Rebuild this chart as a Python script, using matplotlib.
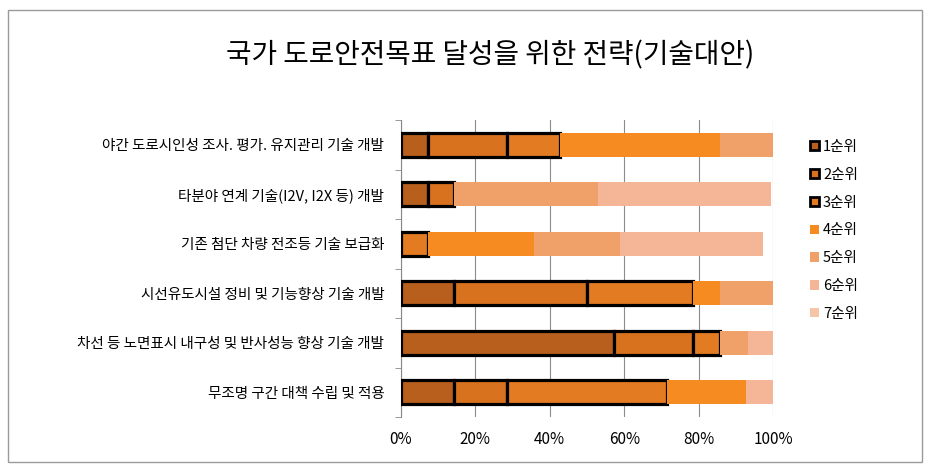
import matplotlib
matplotlib.use("Agg")
import matplotlib.pyplot as plt
import matplotlib.patches as mpatches
import numpy as np

plt.rcParams["font.family"] = ["Noto Sans CJK KR", "DejaVu Sans"]

title = "국가 도로안전목표 달성을 위한 전략(기술대안)"
categories = [
    "야간 도로시인성 조사. 평가. 유지관리 기술 개발",
    "타분야 연계 기술(I2V, I2X 등) 개발",
    "기존 첨단 차량 전조등 기술 보급화",
    "시선유도시설 정비 및 기능향상 기술 개발",
    "차선 등 노면표시 내구성 및 반사성능 향상 기술 개발",
    "무조명 구간 대책 수립 및 적용",
]
rank_labels = ["1순위", "2순위", "3순위", "4순위", "5순위", "6순위", "7순위"]
# percent of responses per rank, one list per rank (same order as categories)
rank1 = [7.14, 7.14, 0, 14.29, 57.14, 14.29]
rank2 = [21.43, 7.14, 0, 35.71, 21.43, 14.29]
rank3 = [14.29, 0, 7.14, 28.57, 7.14, 42.86]
rank4 = [42.86, 0, 28.57, 7.14, 0, 21.43]
rank5 = [14.29, 38.7, 23.1, 14.29, 7.5, 0]
rank6 = [0, 46.6, 38.4, 0, 6.7, 7.14]
rank7 = [0, 0, 0, 0, 0, 0]
ranks = [rank1, rank2, rank3, rank4, rank5, rank6, rank7]

colors = ["#b95f1d", "#d9721f", "#e27b21", "#f68b22", "#f0a069", "#f5b697", "#f6c5a8"]

fig = plt.figure(figsize=(9.36, 4.72), dpi=100)
ax = fig.add_axes([401 / 936, 1 - 417 / 472, 372 / 936, 297 / 472])

y = np.arange(len(categories))
left = np.zeros(len(categories))
handles = []
for i, vals in enumerate(ranks):
    vals = np.array(vals, dtype=float)
    bordered = i < 3
    m = vals > 0
    ax.barh(y[m], vals[m], left=left[m], height=0.48, color=colors[i],
            edgecolor="black" if bordered else "none",
            linewidth=2.3 if bordered else 0, zorder=3)
    left += vals
    handles.append(mpatches.Patch(facecolor=colors[i],
                                  edgecolor="black" if bordered else "none",
                                  linewidth=2.0 if bordered else 0,
                                  label=rank_labels[i]))

ax.set_xlim(0, 100)
ax.set_ylim(len(categories) - 0.5, -0.5)
ax.set_xticks(np.arange(0, 101, 20))
ax.set_xticklabels([f"{v}%" for v in range(0, 101, 20)], fontsize=11)
ax.tick_params(axis="x", length=0, pad=10)
ax.set_yticks(y)
ax.set_yticklabels(categories, fontsize=10.5)
ax.tick_params(axis="y", length=0, pad=12)
ax.set_yticks(np.arange(-0.5, len(categories), 1), minor=True)
ax.tick_params(axis="y", which="minor", length=4, color="#888888", direction="out")
ax.grid(axis="x", color="#8c8c8c", linewidth=0.8, zorder=0)
for s in ["top", "right", "bottom"]:
    ax.spines[s].set_visible(False)
ax.spines["left"].set_color("#888888")
ax.spines["left"].set_linewidth(0.8)

fig.text(490 / 936, 1 - 55 / 472, title, ha="center", va="center", fontsize=20)

fig.legend(handles=handles, loc="upper left", bbox_to_anchor=(804 / 936, 1 - 134 / 472),
           frameon=False, fontsize=10.5, handlelength=0.6, handleheight=0.6,
           handletextpad=0.3, labelspacing=0.95, borderaxespad=0)

fig.add_artist(mpatches.Rectangle((8 / 936, 10 / 472), 914 / 936, 452 / 472,
                                  transform=fig.transFigure, fill=False,
                                  edgecolor="#9a9a9a", linewidth=1.0))

fig.savefig("out.png", dpi=100)
